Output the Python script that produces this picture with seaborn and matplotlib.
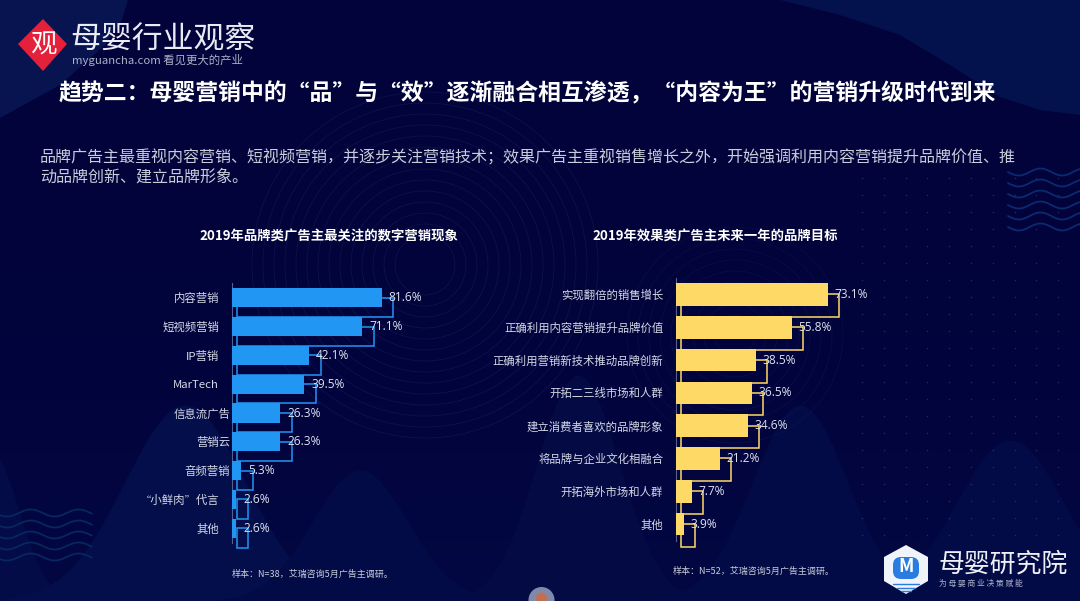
import numpy as np
import pandas as pd
import matplotlib
matplotlib.use("Agg")
import matplotlib.pyplot as plt
from matplotlib.patches import Rectangle, Polygon, Circle, FancyBboxPatch
from matplotlib.colors import LinearSegmentedColormap
import seaborn as sns

sns.set_theme(style="white")
plt.rcParams['font.family'] = ['Noto Sans CJK SC', 'DejaVu Sans']

TITLE = "趋势二：母婴营销中的“品”与“效”逐渐融合相互渗透，“内容为王”的营销升级时代到来"
PARA1 = "品牌广告主最重视内容营销、短视频营销，并逐步关注营销技术；效果广告主重视销售增长之外，开始强调利用内容营销提升品牌价值、推"
PARA2 = "动品牌创新、建立品牌形象。"

left_title = "2019年品牌类广告主最关注的数字营销现象"
left_cats = ["内容营销", "短视频营销", "IP营销", "MarTech", "信息流广告", "营销云", "音频营销", "“小鲜肉”代言", "其他"]
left_vals = [81.6, 71.1, 42.1, 39.5, 26.3, 26.3, 5.3, 2.6, 2.6]
left_note = "样本：N=38，艾瑞咨询5月广告主调研。"

right_title = "2019年效果类广告主未来一年的品牌目标"
right_cats = ["实现翻倍的销售增长", "正确利用内容营销提升品牌价值", "正确利用营销新技术推动品牌创新", "开拓二三线市场和人群",
              "建立消费者喜欢的品牌形象", "将品牌与企业文化相融合", "开拓海外市场和人群", "其他"]
right_vals = [73.1, 55.8, 38.5, 36.5, 34.6, 21.2, 7.7, 3.9]
right_note = "样本：N=52，艾瑞咨询5月广告主调研。"

W, H = 1080, 601
fig = plt.figure(figsize=(W / 100, H / 100), dpi=100)

# ---- background in pixel coordinates
bg = fig.add_axes([0, 0, 1, 1], zorder=0)
bg.set_xlim(0, W); bg.set_ylim(H, 0); bg.axis("off")
cmap = LinearSegmentedColormap.from_list("bg", ["#01033a", "#01033a", "#02043d", "#030842"])
yy = np.linspace(0, 1, 60)[:, None]
bg.imshow(yy, extent=(0, W, H, 0), cmap=cmap, aspect="auto", zorder=0)
bg.set_xlim(0, W); bg.set_ylim(H, 0)

def mountain(cx, top, half, color, base=H):
    x = np.linspace(cx - half, cx + half, 80)
    y = base - (base - top) * np.exp(-((x - cx) / (half * 0.45)) ** 2)
    bg.fill_between(x, y, base, color=color, lw=0, zorder=1)

for c, t, h, col in [(-10, 450, 90, "#030c47"), (185, 405, 190, "#030e4a"), (360, 470, 150, "#030b46"),
                     (578, 375, 130, "#030a44"), (800, 405, 150, "#030b46"), (1010, 440, 170, "#030b46")]:
    mountain(c, t, h, col)

# swooshes at the top corners
bg.fill(np.r_[780, 840, 900, 950, 1000, 1040, 1080, 1080, 780], np.r_[0, 15, 35, 65, 97, 110, 115, 0, 0],
        color="#03124c", lw=0, zorder=1)
bg.fill(np.r_[0, 0, 60, 105, 122, 128], np.r_[0, 118, 85, 45, 20, 0], color="#07144f", lw=0, zorder=1)

# concentric rings
for r in np.arange(30, 175, 11):
    bg.add_patch(Circle((425, 265), r, fill=False, ec="#1a2560", lw=0.6, alpha=0.45, zorder=2))
for r in np.arange(20, 110, 11):
    bg.add_patch(Circle((735, 335), r, fill=False, ec="#1a2560", lw=0.6, alpha=0.3, zorder=2))

# dot grid
gx, gy = np.meshgrid(np.arange(862, 1062, 21.8), np.arange(178, 545, 17))
bg.scatter(gx.ravel(), gy.ravel(), s=1.2, color="#1e2b66", lw=0, zorder=2)

# waves
xr = np.linspace(1008, 1080, 80)
for y0 in np.arange(172, 236, 11):
    bg.plot(xr, y0 + 3.5 * np.sin((xr - 1008) / 6.9), color="#0c2a70", lw=1.3, zorder=2)
xl = np.linspace(0, 92, 100)
for y0 in np.arange(513, 567, 11):
    bg.plot(xl, y0 + 3.5 * np.sin((xl + 5) / 7.6), color="#08265f", lw=1.3, zorder=2)

# logo
bg.add_patch(Polygon([(43, 19), (67, 44), (43, 71), (18, 44)], fc="#e5203a", ec="none", zorder=3))
bg.text(43, 45, "观", color="white", fontsize=19, ha="center", va="center", zorder=4)
bg.text(70, 40, "母婴行业观察", color="#e8ebf3", fontsize=22.2, ha="left", va="center", fontweight="light", zorder=4)
bg.text(72, 60, "myguancha.com 看见更大的产业", color="#aab0c6", fontsize=8.2, ha="left", va="center", zorder=4)

# bottom logos
bg.add_patch(Polygon([(906, 545), (928, 557), (928, 581), (906, 594), (884, 581), (884, 557)],
                     fc="#f0f3fa", ec="none", zorder=3))
bg.add_patch(FancyBboxPatch((893, 557), 26, 22, boxstyle="round,pad=0,rounding_size=8",
                            fc="#2a7ce0", ec="none", zorder=4))
bg.text(906, 567, "M", color="white", fontsize=13, fontweight="bold", ha="center", va="center", zorder=5)
for yy0, half in [(584, 13), (588, 9), (591, 5)]:
    bg.plot([906 - half, 906 + half], [yy0, yy0], color="#2a7ce0", lw=1, zorder=5)
bg.text(938, 564, "母婴研究院", color="#eef0f6", fontsize=18.6, ha="left", va="center", zorder=4)
bg.text(939, 584, "为 母 婴 商 业 决 策 赋 能", color="#aab0c6", fontsize=5.6, ha="left", va="center", zorder=4)
bg.add_patch(Circle((541.5, 600), 13, fc="#8089aa", ec="none", zorder=3))
bg.add_patch(Circle((541.5, 598), 5.5, fc="#c0704f", ec="none", zorder=4))

# texts
bg.text(59, 94, TITLE, color="white", fontsize=16.44, fontweight="bold", ha="left", va="center", zorder=6)
bg.text(40, 158, PARA1, color="#c9cdda", fontsize=11.55, ha="left", va="center", zorder=6)
bg.text(40, 177, PARA2, color="#c9cdda", fontsize=11.55, ha="left", va="center", zorder=6)
bg.text(328.5, 236, left_title, color="white", fontsize=9.6, fontweight="bold", ha="center", va="center", zorder=6)
bg.text(715, 236, right_title, color="white", fontsize=9.6, fontweight="bold", ha="center", va="center", zorder=6)
bg.text(232, 574, left_note, color="#c9cdda", fontsize=6.5, ha="left", va="center", zorder=6)
bg.text(673, 571, right_note, color="#c9cdda", fontsize=6.5, ha="left", va="center", zorder=6)


def panel(cats, vals, x0, y_top, y_bot, px_per_unit, color, frac, dx1, dx2, pads):
    xmax = 100
    ax = fig.add_axes([x0 / W, 1 - y_bot / H, xmax * px_per_unit / W, (y_bot - y_top) / H], zorder=2)
    ax.patch.set_alpha(0)
    df = pd.DataFrame({"cat": cats, "val": vals})
    sns.barplot(data=df, x="val", y="cat", color=color, saturation=1, width=frac, ax=ax, zorder=3,
                orient="h", linewidth=0, edgecolor="none")
    ax.set_xlim(0, xmax)
    ax.set_ylim(len(cats) - 0.5, -0.5)
    ax.set_xlabel(""); ax.set_ylabel("")
    ax.xaxis.set_visible(False)
    for s in ("top", "right", "bottom"):
        ax.spines[s].set_visible(False)
    ax.spines["left"].set_color("#56608c")
    ax.spines["left"].set_linewidth(0.8)
    ax.tick_params(axis="y", length=0, labelsize=8.2, labelcolor="#d5d9e6")
    for t, p in zip(ax.yaxis.get_major_ticks(), pads):
        t.set_pad(p)
    for bar, v in zip(list(ax.patches), vals):
        y = bar.get_y(); h = bar.get_height(); w = bar.get_width()
        ax.add_patch(Rectangle((dx1 / px_per_unit, y + h / 2), w + (dx2 - dx1) / px_per_unit, h,
                               fill=False, ec=color, lw=1.1, zorder=2, clip_on=False))
        ax.text(v + 7 / px_per_unit, y + h / 2, f"{v}%", color="#dfe2ee", fontsize=8.6,
                family="Open Sans", ha="left", va="center", zorder=5)
    return ax


panel(left_cats, left_vals, 231.7, 283.3, 542.7, 1.838, "#2196f3", 0.67, 5, 11.8,
      [9, 9, 9, 9, 1, 1, 1, 9, 9])
panel(right_cats, right_vals, 675.7, 278, 540.5, 2.079, "#ffd966", 0.69, 5.6, 11.6, [9] * 8)

fig.savefig("out.png", dpi=100)
